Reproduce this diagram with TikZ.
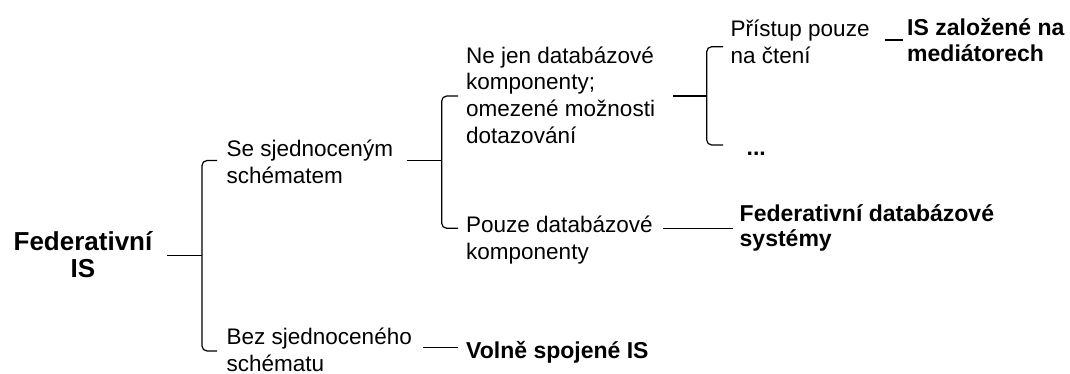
\documentclass[tikz,border=0pt]{standalone}
\usepackage{fontspec}
\setmainfont{Liberation Sans}
\newcommand{\blockL}[1]{\begin{tabular}[t]{@{}l@{}}#1\end{tabular}}
\newcommand{\blockC}[1]{\begin{tabular}[t]{@{}c@{}}#1\end{tabular}}
\begin{document}
\begin{tikzpicture}[x=1pt,y=-1pt,
  lbl/.style={anchor=base west,inner sep=0pt,font=\fontsize{22.5}{26.7}\selectfont},
  blbl/.style={lbl,font=\fontsize{23}{25.5}\selectfont\bfseries},
  conn/.style={line width=1.2pt,black},
  brk/.style={conn,rounded corners=5pt}]
\useasboundingbox (0,0) rectangle (1070,374);

% nodes
\node[anchor=base,inner sep=0pt,font=\fontsize{26}{27}\selectfont\bfseries] (fed) at (83,250.7) {\blockC{Federativní\\IS}};
\node[lbl] (se) at (226.5,156.7) {\blockL{Se sjednoceným\\schématem}};
\node[lbl] (bez) at (226.5,344.5) {\blockL{Bez sjednoceného\\schématu}};
\node[lbl] (nejen) at (466,63.3) {\blockL{Ne jen databázové\\komponenty;\\omezené možnosti\\dotazování}};
\node[lbl] (pouze) at (466,232.3) {\blockL{Pouze databázové\\komponenty}};
\node[blbl] (fdb) at (739.5,221) {\blockL{Federativní databázové\\systémy}};
\node[blbl] (volne) at (466,358) {Volně spojené IS};
\node[lbl] (pristup) at (730.5,36.7) {\blockL{Přístup pouze\\na čtení}};
\node[blbl] (dots) at (746.5,156) {...};
\node[blbl] (isz) at (907,36) {\blockL{IS založené na\\mediátorech}};

% connection points
\coordinate (fedR) at (167,255.5);
\coordinate (seL) at (217,160.5);
\coordinate (bezL) at (217,351);
\coordinate (seR) at (406.7,160.5);
\coordinate (nejenL) at (458,96);
\coordinate (pouzeL) at (458,228.3);
\coordinate (nejenR) at (673.3,96);
\coordinate (pristupL) at (723,46.7);
\coordinate (dotsL) at (723,145);
\coordinate (pouzeR) at (663.3,228.3);
\coordinate (fdbL) at (732.7,228.3);
\coordinate (bezR) at (423,347.3);
\coordinate (volneL) at (458,347.3);
\coordinate (pristupR) at (885,40);
\coordinate (iszL) at (903.3,40);

% bracket 1
\draw[brk] (seL) -- (202,160.5) -- (202,351) -- (bezL);
\draw[conn] (fedR) -- (202,255.5);
% bracket 2
\draw[brk] (nejenL) -- (441.7,96) -- (441.7,228.3) -- (pouzeL);
\draw[conn] (seR) -- (441.7,160.5);
% bracket 3
\draw[brk] (pristupL) -- (706.7,46.7) -- (706.7,145) -- (dotsL);
\draw[conn] (nejenR) -- (706.7,96);
% leaf links
\draw[conn] (pouzeR) -- (fdbL);
\draw[conn] (bezR) -- (volneL);
\draw[conn] (pristupR) -- (iszL);
\end{tikzpicture}
\end{document}
